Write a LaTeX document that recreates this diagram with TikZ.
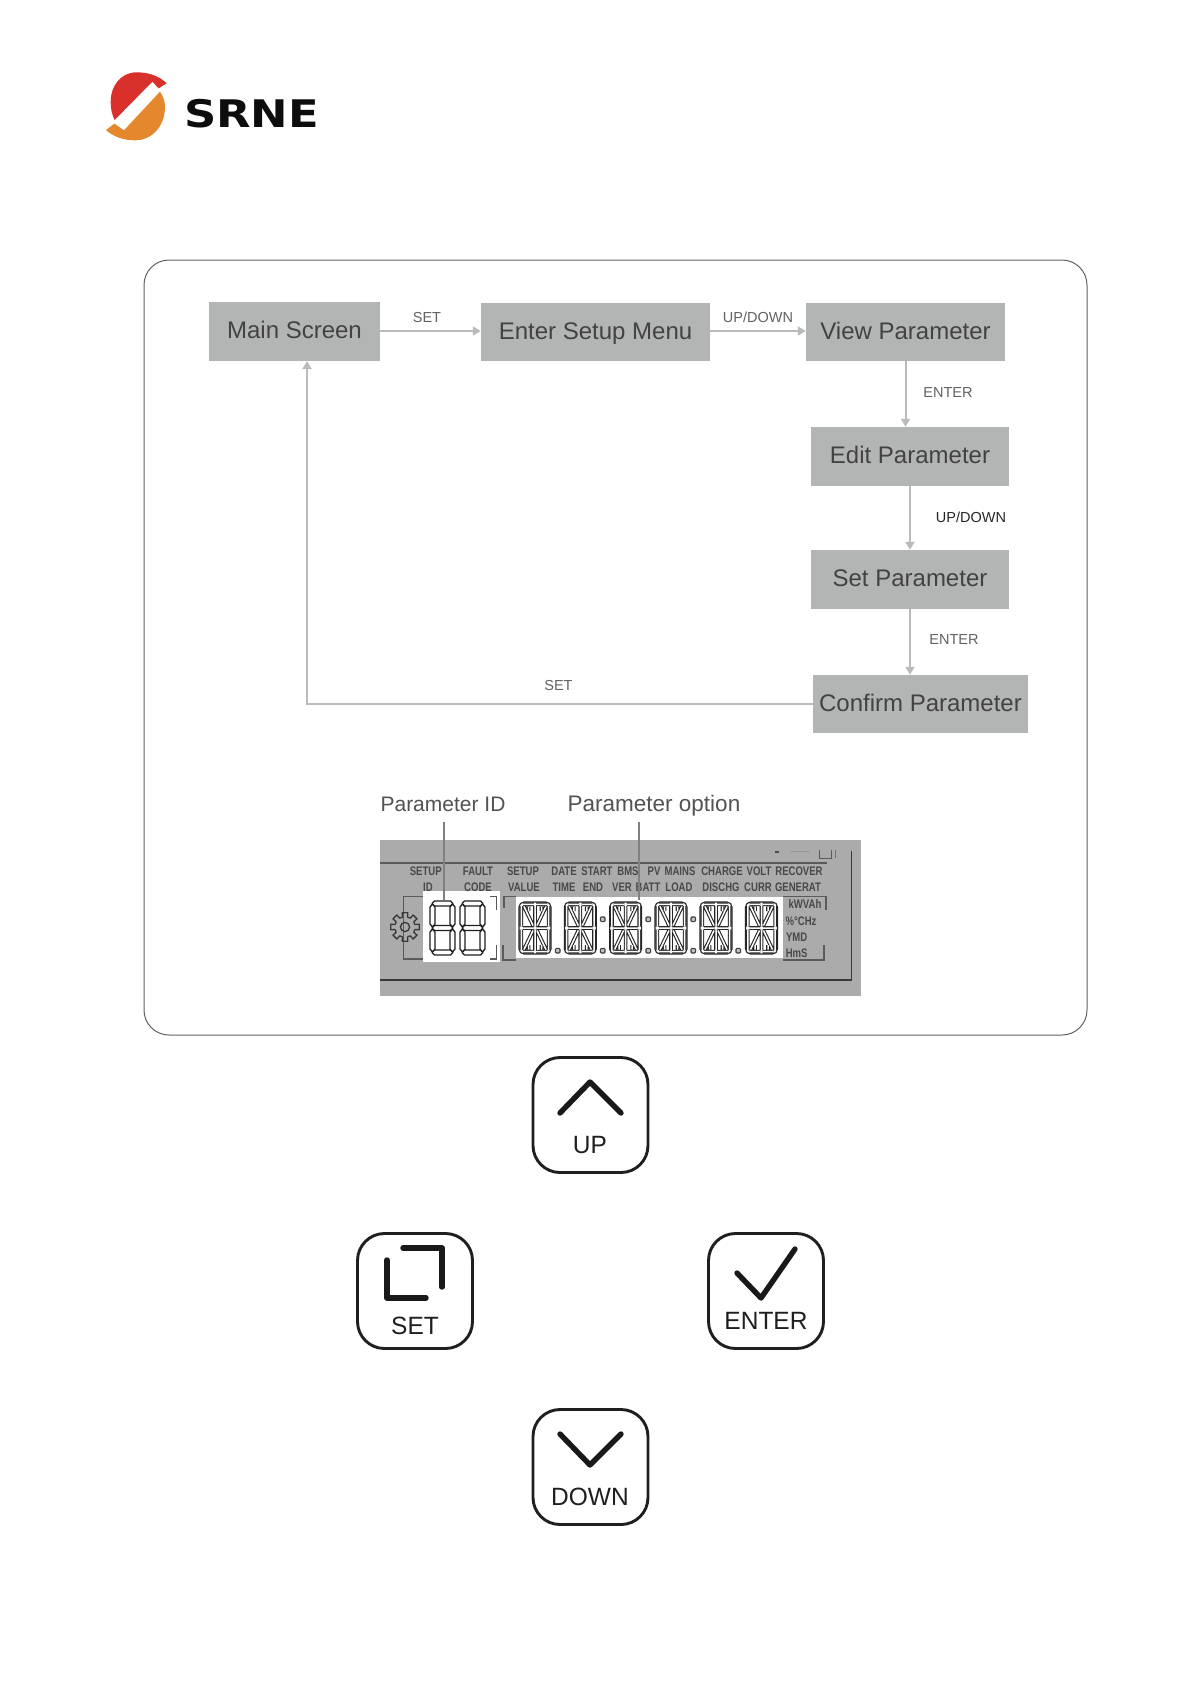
\documentclass[tikz,border=0pt]{standalone}
\usepackage{fontspec}
\usepackage{graphicx}
\setmainfont{Liberation Sans}
\newfontfamily\logofont{DejaVu Sans}
\usetikzlibrary{arrows.meta}
\definecolor{boxgrey}{HTML}{B3B5B4}
\definecolor{flowgrey}{HTML}{BABCBB}
\definecolor{lcdgrey}{HTML}{ABABAB}
\definecolor{lcdline}{HTML}{5A5A5A}
\definecolor{lcdtext}{HTML}{484848}
\definecolor{logored}{HTML}{D9302B}
\definecolor{logoorange}{HTML}{E5872C}
\newcommand\fs[1]{\fontsize{#1}{#1}\selectfont}
\newcommand\lcdt[1]{\scalebox{.77}[1]{#1}}
\newcommand\narrowt[1]{\scalebox{.98}[1]{#1}}
\tikzset{
  flowbox/.style={fill=boxgrey,inner sep=0pt,text=black!74,font=\fs{24},text height=17pt,text depth=3pt},
  flowarrow/.style={draw=flowgrey,line width=2pt,-{Triangle[length=8pt,width=9pt]}},
  flowlabel/.style={inner sep=0pt,text=black!62,font=\fs{14.5}},
  calllabel/.style={inner sep=0pt,text=black!68,font=\fs{21},text height=15pt,text depth=0pt},
  callout/.style={draw=black!50,line width=2.5pt},
  lcdword/.style={inner sep=0pt,text=lcdtext,font=\fs{12.4}\bfseries},
  lcdrule/.style={draw=lcdline,line width=1.1pt},
  heavyrule/.style={draw=black!78,line width=1.6pt},
  seg/.style={draw=black!88,line width=1.35pt,fill=white,line join=round},
  dseg/.style={draw=black!85,line width=1.1pt,double=white,double distance=1.5pt},
  outerseg/.style={draw=black!85,line width=1.1pt,rounded corners=5pt},
  dotbox/.style={draw=black!75,line width=1.1pt,fill=black!25,rounded corners=1pt},
  keybox/.style={draw=black!88,line width=2.9pt,rounded corners=27pt,fill=white,inner sep=0pt},
  keyicon/.style={draw=black!90,line width=5.4pt,line cap=round,line join=round},
  keylabel/.style={inner sep=0pt,text=black!88,font=\fs{25}},
}
\newcommand\sevenseg[2]{%
\begin{scope}[shift={(#1,#2)}]
  \draw[seg] (2,2.5)--(4.5,0)--(20.5,0)--(23,2.5)--(20.5,5)--(4.5,5)--cycle;
  \draw[seg] (2,27)--(4.5,24.5)--(20.5,24.5)--(23,27)--(20.5,29.5)--(4.5,29.5)--cycle;
  \draw[seg] (2,51.5)--(4.5,49)--(20.5,49)--(23,51.5)--(20.5,54)--(4.5,54)--cycle;
  \foreach \sx/\sy in {0/3,20/3,0/28,20/28}{
    \draw[seg] (\sx+2.5,\sy)--(\sx+5,\sy+3)--(\sx+5,\sy+20)--(\sx+2.5,\sy+23)--(\sx,\sy+20)--(\sx,\sy+3)--cycle;
  }
\end{scope}}
\newcommand\sixteenseg[2]{%
\begin{scope}[shift={(#1,#2)}]
  \draw[outerseg] (0,0) rectangle (32,52);
  \draw[dseg] (4,2.3)--(14.8,2.3) (17.2,2.3)--(28,2.3) (4,49.7)--(14.8,49.7) (17.2,49.7)--(28,49.7)
    (4,26)--(14.5,26) (17.5,26)--(28,26)
    (2.3,4)--(2.3,24.5) (2.3,27.5)--(2.3,48) (29.7,4)--(29.7,24.5) (29.7,27.5)--(29.7,48)
    (16,4)--(16,24.5) (16,27.5)--(16,48)
    (5,4.5)--(14,23.5) (27,4.5)--(18,23.5) (5,47.5)--(14,28.5) (27,47.5)--(18,28.5)
    (9.5,4.5)--(9.5,9) (22.5,4.5)--(22.5,9) (9.5,43)--(9.5,47.5) (22.5,43)--(22.5,47.5);
\end{scope}}
\begin{document}
\begin{tikzpicture}[x=1pt,y=-1pt]
\useasboundingbox (0,0) rectangle (1191,1684);
\fill[white] (0,0) rectangle (1191,1684);

% logo
\begin{scope}[shift={(100,65)},x=.3333pt,y=-.3333pt]
  \fill[logored] (44,165) -- (157,50) -- (176,70) -- (200,55)
    .. controls (175,30) and (140,22) .. (110,22)
    .. controls (60,22) and (32,65) .. (32,110)
    .. controls (32,132) and (36,150) .. (44,165) -- cycle;
  \fill[logoorange] (72,196) -- (180,80)
    .. controls (190,95) and (195,110) .. (195,125)
    .. controls (195,185) and (155,226) .. (105,226)
    .. controls (70,226) and (40,215) .. (18,195) -- (43,176) -- cycle;
\end{scope}
\node[inner sep=0pt,text=black!95] (brand) at (251.5,113.5) {\scalebox{1.18}[1]{\logofont\fs{38}\bfseries SRNE}};

% frame
\draw[draw=black!62,line width=1pt,rounded corners=25pt] (144,260) rectangle (1087,1035);

% flow boxes
\node[flowbox,minimum width=171pt,minimum height=59pt] (main) at (294.5,331) {Main Screen};
\node[flowbox,minimum width=229pt,minimum height=58pt] (setup) at (595.5,332) {Enter Setup Menu};
\node[flowbox,minimum width=199pt,minimum height=58pt] (view) at (905.5,332) {View Parameter};
\node[flowbox,minimum width=198pt,minimum height=59pt] (edit) at (910,456.5) {Edit Parameter\hspace{3pt}};
\node[flowbox,minimum width=198pt,minimum height=59pt] (set) at (910,579.5) {Set Parameter\hspace{3pt}};
\node[flowbox,minimum width=215pt,minimum height=58pt] (confirm) at (920.5,704) {Confirm Parameter\hspace{2pt}};
\coordinate (backtop) at (307,361);

\draw[flowarrow] (main.east) -- (main.east -| setup.west);
\draw[flowarrow] ([yshift=1pt]setup.east) -- ([yshift=1pt]view.west);
\draw[flowarrow] (view.south) -- (view.south |- edit.north);
\draw[flowarrow] (edit.south) -- (set.north);
\draw[flowarrow] (set.south) -- (set.south |- confirm.north);
\draw[flowarrow] (confirm.west) -| (backtop);

\node[flowlabel] (l1) at (427,317.5) {SET};
\node[flowlabel] (l2) at (758,317) {UP/DOWN};
\node[flowlabel] (l3) at (948,393) {ENTER};
\node[flowlabel,text=black!85] (l4) at (971,517) {UP/DOWN};
\node[flowlabel] (l5) at (954,640) {ENTER};
\node[flowlabel] (l6) at (558.5,685) {SET};

% LCD panel
\fill[lcdgrey] (380,840) rectangle (861,996);
\draw[lcdrule] (380,863) -- (827,863);
\draw[heavyrule] (380,980) -- (851.3,980) -- (851.3,851);
% brackets beneath the white panels
\draw[lcdrule] (423,896.7) -- (403.3,896.7) -- (403.3,959) -- (423,959);
\fill[white] (423,891) rectangle (500,962);
\fill[white] (516,897) rectangle (783,958);
\draw[lcdrule] (490,896.7) -- (496.7,896.7) -- (496.7,910);
\draw[lcdrule] (496.7,945) -- (496.7,959) -- (490,959);
\draw[lcdrule] (516,896.7) -- (504,896.7) -- (504,908);
\draw[lcdrule] (503,945) -- (503,960) -- (516,960);
\draw[lcdrule] (783,960) -- (824,960) -- (824,945);
\draw[lcdrule] (783,896.7) -- (826,896.7) -- (826,910);
% status icons
\draw[lcdrule] (819.3,850) -- (819.3,858.3) -- (831.7,858.3) -- (831.7,850);
\draw[draw=black!55,line width=1pt] (835.7,850) -- (835.7,858);
\fill[black!70] (775,850.5) rectangle (778.5,853);
\draw[draw=black!40,line width=1pt] (790,851) -- (810,851);

% gear
\begin{scope}[shift={(405,927)}]
  \foreach \a in {0,45,...,315}{
    \draw[draw=black!78,line width=1.3pt,line join=round]
      ({\a-22.5}:10) -- ({\a-14}:10.4) -- ({\a-11}:14.5) -- ({\a+11}:14.5) -- ({\a+14}:10.4) -- ({\a+22.5}:10);
  }
  \draw[draw=black!78,line width=1.3pt] (0,0) circle (4.6);
\end{scope}

% digits
\sevenseg{430}{901}
\sevenseg{460}{901}
\foreach \dx in {519,564.3,609.6,655,700,745.5}{\sixteenseg{\dx}{902}}
\foreach \dotx in {557.7,602.7,648.3,693.3,738.3}{\draw[dotbox] (\dotx-2.3,948.4) rectangle (\dotx+2.3,953);}
\foreach \dotx in {602.7,648.3,693.3}{\draw[dotbox] (\dotx-2.3,917) rectangle (\dotx+2.3,921.6);}

% LCD words
\foreach \wx/\wt in {425.7/SETUP,478/FAULT,523/SETUP,564/DATE,597/START,628/BMS,654/PV,680/MAINS,722/CHARGE,759/VOLT,799/RECOVER}{
  \node[lcdword] at (\wx,871) {\lcdt{\wt}};
}
\foreach \wx/\wt in {428/ID,478/CODE,524/VALUE,564/TIME,593/END,622/VER,648/BATT,679/LOAD,721/DISCHG,758/CURR,798/GENERAT}{
  \node[lcdword] at (\wx,887.5) {\lcdt{\wt}};
}
\node[lcdword] (u1) at (805,903.5) {\lcdt{kWVAh}};
\node[lcdword] (u2) at (801,921.7) {\lcdt{\%°CHz}};
\node[lcdword] (u3) at (796.7,937.7) {\lcdt{YMD}};
\node[lcdword] (u4) at (796.7,953) {\lcdt{HmS}};

% callouts
\node[calllabel] (pid) at (443,804) {Parameter ID};
\node[calllabel,font=\fs{22.5}] (popt) at (654,803.5) {Parameter option};
\coordinate (pidend) at (444,900);
\coordinate (poptend) at (639,900);
\coordinate (pidtop) at (444,822);
\coordinate (popttop) at (639,822);
\draw[callout] (pidtop) -- (pidend);
\draw[callout] (popttop) -- (poptend);

% keys
\node[keybox,minimum width=115pt,minimum height=115pt] (kup) at (590.5,1115) {};
\node[keybox,minimum width=115pt,minimum height=115pt] (kset) at (415,1291) {};
\node[keybox,minimum width=115pt,minimum height=115pt] (kenter) at (766,1291) {};
\node[keybox,minimum width=115pt,minimum height=115pt] (kdown) at (590.5,1467) {};

\draw[keyicon] (560,1113) -- (590,1082) -- (621,1113);
\node[keylabel] (tup) at (590,1145) {\narrowt{UP}};
\draw[keyicon] (387,1260) -- (387,1298) -- (426,1298);
\draw[keyicon] (403,1248) -- (442,1248) -- (442,1287);
\node[keylabel] (tset) at (415,1326) {\narrowt{SET}};
\draw[keyicon] (737,1273) -- (761,1298) -- (795,1249);
\node[keylabel] (tenter) at (766,1321) {\narrowt{ENTER}};
\draw[keyicon] (560,1434) -- (590,1465) -- (621,1434);
\node[keylabel] (tdown) at (590,1497) {\narrowt{DOWN}};
\end{tikzpicture}
\end{document}
